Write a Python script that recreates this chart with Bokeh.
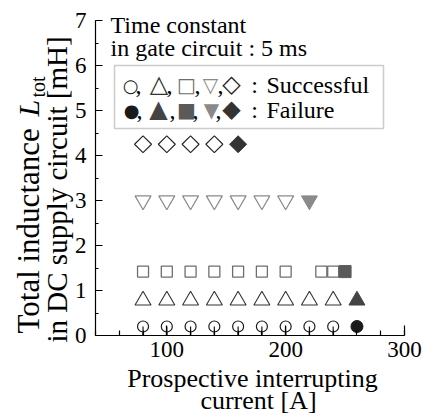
from bokeh.plotting import figure
from bokeh.models import BoxAnnotation, FixedTicker, Range1d
from bokeh.core.properties import value
from bokeh.embed import file_html
from bokeh.resources import INLINE
import math

# ---------------- data ----------------
circle_ok_I = [80, 100, 120, 140, 160, 180, 200, 220, 240]
circle_fail_I = [260]
circle_L = 0.2

tri_ok_I = [80, 100, 120, 140, 160, 180, 200, 220, 240]
tri_fail_I = [260]
tri_L = 0.78

sq_ok_I = [80, 100, 120, 140, 160, 180, 200, 230, 240]
sq_fail_I = [250]
sq_L = 1.42

itri_ok_I = [80, 100, 120, 140, 160, 180, 200]
itri_fail_I = [220]
itri_L = 3.0

dia_ok_I = [80, 100, 120, 140]
dia_fail_I = [160]
dia_L = 4.25

x_ticks = [100, 200, 300]
x_minor = [40, 60, 80, 100, 120, 140, 160, 180, 200, 220, 240, 260, 280, 300]
y_ticks = [0, 1, 2, 3, 4, 5, 6, 7]
y_minor = [i * 0.5 for i in range(15)]

# ---------------- layout ----------------
W, H = 430, 417
X0, X1, Y0, Y1 = 40, 300, 0, 7
FL, FR, FT, FB = 95, 404, 20, 335  # axes box in picture px

SERIF = "Liberation Serif"
SYM = "DejaVu Sans"

def dx(px):
    return X0 + (px - FL) * (X1 - X0) / (FR - FL)

def dy(py):
    return Y0 + (FB - py) * (Y1 - Y0) / (FB - FT)

# the frame fills the whole canvas; axes are placed at fixed locations
p = figure(width=W, height=H, output_backend="svg", toolbar_location=None,
           x_range=Range1d(dx(0), dx(W)), y_range=Range1d(dy(H), dy(0)),
           min_border=0, min_border_left=0, min_border_right=0,
           min_border_top=0, min_border_bottom=0)
p.grid.visible = False
p.outline_line_color = None
p.background_fill_color = "white"
p.border_fill_color = "white"

for ax in (p.xaxis[0], p.yaxis[0]):
    ax.axis_line_color = "black"
    ax.axis_line_width = 1.2
    ax.major_tick_line_color = "black"
    ax.minor_tick_line_color = "black"
    ax.major_tick_line_width = 1.2
    ax.minor_tick_line_width = 1.2
    ax.major_tick_out = 0
    ax.minor_tick_out = 0
    ax.major_label_text_font = SERIF
    ax.major_label_text_font_size = "23px"
    ax.major_label_text_color = "black"

p.xaxis.fixed_location = Y0
p.xaxis.bounds = (X0, X1)
p.xaxis.ticker = FixedTicker(ticks=x_ticks, minor_ticks=x_minor)
p.xaxis.major_tick_in = 10
p.xaxis.minor_tick_in = 5
p.xaxis.major_label_standoff = 6

p.yaxis.fixed_location = X0
p.yaxis.bounds = (Y0, Y1)
p.yaxis.ticker = FixedTicker(ticks=y_ticks, minor_ticks=y_minor)
p.yaxis.major_tick_in = 7
p.yaxis.minor_tick_in = 3
p.yaxis.major_label_standoff = 9

# ---------------- data marks ----------------
p.segment(x0=circle_ok_I, y0=[0] * len(circle_ok_I), x1=circle_ok_I,
          y1=[circle_L] * len(circle_ok_I), line_color="#1a1a1a", line_width=1.2)
p.scatter(circle_ok_I, [circle_L] * len(circle_ok_I), marker="circle", size=11,
          fill_color="white", line_color="#1a1a1a", line_width=1.2)
p.segment(x0=circle_ok_I, y0=[0] * len(circle_ok_I), x1=circle_ok_I,
          y1=[circle_L] * len(circle_ok_I), line_color="#1a1a1a", line_width=1.2)
p.scatter(circle_fail_I, [circle_L], marker="circle", size=12,
          fill_color="#1a1a1a", line_color="#1a1a1a", line_width=1)

p.scatter(tri_ok_I, [tri_L] * len(tri_ok_I), marker="triangle", size=16,
          fill_color=None, line_color="#333333", line_width=1.1)
p.scatter(tri_fail_I, [tri_L], marker="triangle", size=16,
          fill_color="#444444", line_color="#444444", line_width=1)

p.scatter(sq_ok_I, [sq_L] * len(sq_ok_I), marker="square", size=11,
          fill_color=None, line_color="#6e6e6e", line_width=1.3)
p.scatter(sq_fail_I, [sq_L], marker="square", size=12,
          fill_color="#5a5a5a", line_color="#5a5a5a", line_width=1)

p.scatter(itri_ok_I, [itri_L] * len(itri_ok_I), marker="inverted_triangle", size=16,
          fill_color=None, line_color="#8a8a8a", line_width=1.2)
p.scatter(itri_fail_I, [itri_L], marker="inverted_triangle", size=16,
          fill_color="#8a8a8a", line_color="#8a8a8a", line_width=1)

p.scatter(dia_ok_I, [dia_L] * len(dia_ok_I), marker="square", angle=math.pi / 4, size=12,
          fill_color=None, line_color="#222222", line_width=1.1)
p.scatter(dia_fail_I, [dia_L], marker="square", angle=math.pi / 4, size=12,
          fill_color="#333333", line_color="#333333", line_width=1)

# ---------------- texts ----------------
# Bokeh draws the "alphabetic" anchor ~0.3 em above the true baseline;
# the helper compensates so that (px, py) is the visual baseline point.
def T(text, px, py, size=24, font=SERIF, color="black", align="left",
      baseline="alphabetic", angle=0.0, style="normal"):
    k = 0.3 if baseline == "alphabetic" else 0.18
    if angle:
        px = px - k * size
    else:
        py = py - k * size
    p.text(x=[dx(px)], y=[dy(py)], text=[text], text_font=value(font),
           text_font_size=value(f"{size}px"), text_color=color, text_align=align,
           text_baseline=baseline, angle=angle, text_font_style=style)

# title
T("Time constant", 110, 32)
T("in gate circuit : 5 ms", 110, 55)

# legend box
p.add_layout(BoxAnnotation(left=dx(114), right=dx(383), top=dy(65), bottom=dy(128),
                           fill_alpha=0, line_color="#555555", line_width=1.5))

ok_syms = [("○", 130, "#1a1a1a", 18), ("△", 158.5, "#333333", 24),
           ("□", 186, "#6e6e6e", 20), ("▽", 210, "#8a8a8a", 20),
           ("◇", 231, "#222222", 24)]
fail_syms = [("●", 131, "#1a1a1a", 18), ("▲", 158, "#444444", 24),
             ("■", 186, "#5a5a5a", 20), ("▼", 211, "#8a8a8a", 20),
             ("◆", 231, "#333333", 24)]
for (s, x, c, fs) in ok_syms:
    T(s, x, 88, size=fs, font=SYM, color=c, align="center", baseline="middle")
for (s, x, c, fs) in fail_syms:
    T(s, x, 113, size=fs, font=SYM, color=c, align="center", baseline="middle")
for x in (138, 169, 197, 220):
    T(",", x, 91.7, align="center")
for x in (139, 172, 195, 218):
    T(",", x, 116.7, align="center")
T(":", 254, 91.7, align="center")
T(":", 254, 116.7, align="center")
T("Successful", 266, 91.7)
T("Failure", 266, 116.7)

# x axis label
T("Prospective interrupting", 252, 386, size=26, align="center")
T("current [A]", 258, 408, size=26, align="center")

# y axis label (rotated, composed)
a = math.pi / 2
T("Total inductance", 37, 333, size=31, angle=a)
T("L", 37, 116, size=30, angle=a, style="italic")
T("tot", 43, 97, size=20, angle=a)
T("in DC supply circuit [mH]", 65, 342, size=29, angle=a)

open("out.html", "w").write(file_html(p, INLINE))
